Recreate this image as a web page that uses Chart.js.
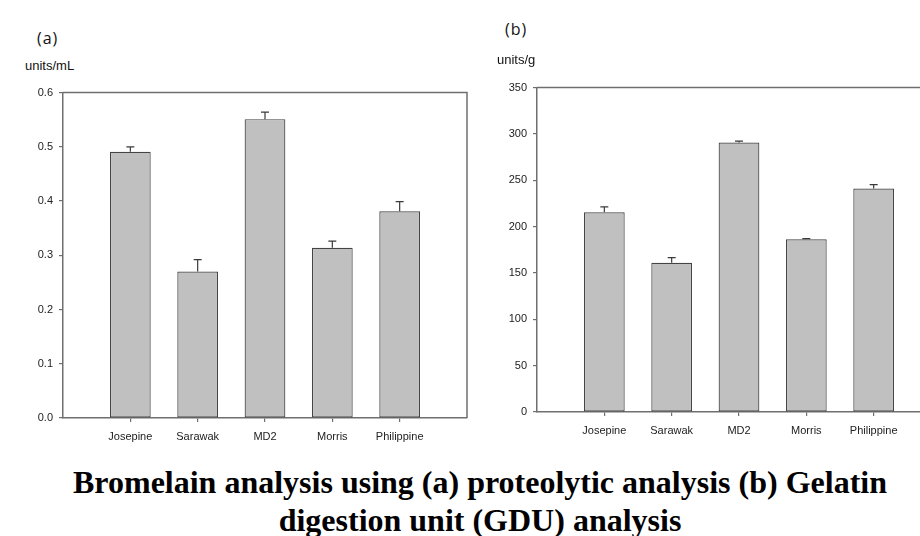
<!DOCTYPE html>
<html>
<head>
<meta charset="utf-8">
<script src="https://cdn.jsdelivr.net/npm/chart.js@4.4.1/dist/chart.umd.min.js"></script>
<style>
  html, body { margin: 0; padding: 0; background: #fff; overflow: hidden; }
  #page { position: relative; width: 920px; height: 536px; overflow: hidden; background: #fff; }
  .cv { position: absolute; }
  .panel { position: absolute; font-family: "Open Sans", sans-serif; font-size: 16px; line-height: 16px; letter-spacing: 1px; color: #111; white-space: nowrap; }
  .unit { position: absolute; font-family: "Liberation Sans", Arial, sans-serif; font-size: 13px; line-height: 13px; color: #111; white-space: nowrap; }
  #caption { position: absolute; left: 0; top: 463px; width: 960px; text-align: center; font-family: "Liberation Serif", "Times New Roman", serif; font-weight: bold; font-size: 32px; line-height: 38px; color: #000; }
</style>
</head>
<body>
<div id="page">
  <canvas id="chartA" class="cv" width="475" height="368" style="left:0px;top:80px;width:475px;height:368px;"></canvas>
  <canvas id="chartB" class="cv" width="475" height="367" style="left:474px;top:75px;width:475px;height:367px;"></canvas>
  <div class="panel" style="left:37px;top:30px;">(a)</div>
  <div class="panel" style="left:505px;top:21px;">(b)</div>
  <div class="unit" style="left:25px;top:59px;">units/mL</div>
  <div class="unit" style="left:497px;top:53px;">units/g</div>
  <div id="caption">Bromelain analysis using (a) proteolytic analysis (b) Gelatin<br>digestion unit (GDU) analysis</div>
</div>
<script>
// ---- data ----
const categories = ['Josepine', 'Sarawak', 'MD2', 'Morris', 'Philippine'];
const proteolyticValues = [0.491, 0.270, 0.551, 0.314, 0.381];   // units/mL
const proteolyticErrors = [0.009, 0.022, 0.013, 0.012, 0.018];
const gduValues = [215.5, 160.9, 290.8, 186.3, 241.2];           // units/g
const gduErrors = [5.9, 5.6, 1.4, 0.7, 4.2];
const proteolyticAxis = { min: 0, max: 0.6, step: 0.1, decimals: 1 };
const gduAxis = { min: 0, max: 350, step: 50, decimals: 0 };

Chart.defaults.font.family = '"Liberation Sans", Arial, sans-serif';
Chart.defaults.font.size = 11;
Chart.defaults.color = '#222';

const AXIS_COLOR = '#6f6f6f';

// pad the category axis with an empty slot on each side
const paddedLabels = [''].concat(categories, ['']);
const pad = arr => [null].concat(arr, [null]);

const errorFramePlugin = {
  id: 'errorFrame',
  afterDatasetsDraw(chart) {
    const { ctx, scales } = chart;
    const errs = chart.options.plugins.errorFrame.errors;
    const ds = chart.data.datasets[0];
    const meta = chart.getDatasetMeta(0);
    ctx.save();
    ctx.strokeStyle = '#3a3a3a';
    ctx.lineWidth = 1.2;
    meta.data.forEach((bar, i) => {
      const v = ds.data[i];
      if (v === null || v === undefined) return;
      const e = errs[i];
      const yTop = scales.y.getPixelForValue(v + e);
      ctx.beginPath();
      ctx.moveTo(bar.x, bar.y);
      ctx.lineTo(bar.x, yTop);
      ctx.moveTo(bar.x - 4, yTop);
      ctx.lineTo(bar.x + 4, yTop);
      ctx.stroke();
    });
    ctx.restore();
  },
  afterDraw(chart) {
    const { ctx, chartArea: { left, right, top, bottom } } = chart;
    ctx.save();
    ctx.strokeStyle = AXIS_COLOR;
    ctx.lineWidth = 1.5;
    ctx.beginPath();
    ctx.moveTo(left, top);
    ctx.lineTo(right, top);
    ctx.lineTo(right, bottom);
    ctx.stroke();
    ctx.restore();
  }
};

function makeChart(id, values, errors, axis) {
  return new Chart(document.getElementById(id), {
    type: 'bar',
    data: {
      labels: paddedLabels,
      datasets: [{
        data: pad(values),
        backgroundColor: '#c0c0c0',
        borderColor: '#444',
        borderWidth: 1.2,
        borderSkipped: false,
        categoryPercentage: 1.0,
        barPercentage: 0.605
      }]
    },
    options: {
      responsive: false,
      animation: false,
      devicePixelRatio: 1,
      layout: { padding: { left: 0, right: 8, top: 6, bottom: 0 } },
      plugins: {
        legend: { display: false },
        tooltip: { enabled: false },
        errorFrame: { errors: pad(errors) }
      },
      scales: {
        x: {
          type: 'category',
          offset: false,
          afterBuildTicks: s => { s.ticks = s.ticks.filter(t => paddedLabels[t.value] !== ''); },
          afterFit: s => { s.height = 30; },
          grid: { offset: false, drawOnChartArea: false, drawTicks: true, tickLength: 4, color: AXIS_COLOR, lineWidth: 1.2 },
          border: { display: true, color: AXIS_COLOR, width: 1.5 },
          ticks: { padding: 8, autoSkip: false, maxRotation: 0, color: '#222' }
        },
        y: {
          min: axis.min,
          max: axis.max,
          afterFit: s => { s.width = 63; },
          grid: { drawOnChartArea: false, drawTicks: true, tickLength: 4, color: AXIS_COLOR, lineWidth: 1.2 },
          border: { display: true, color: AXIS_COLOR, width: 1.5 },
          ticks: {
            stepSize: axis.step,
            padding: 6,
            color: '#222',
            callback: v => Number(v).toFixed(axis.decimals)
          }
        }
      }
    },
    plugins: [errorFramePlugin]
  });
}

makeChart('chartA', proteolyticValues, proteolyticErrors, proteolyticAxis);
makeChart('chartB', gduValues, gduErrors, gduAxis);
</script>
</body>
</html>
